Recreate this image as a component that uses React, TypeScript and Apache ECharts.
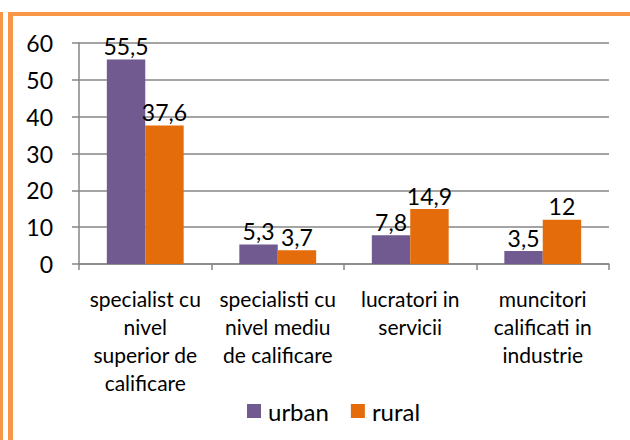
import React, { useEffect, useRef } from "react";
import * as echarts from "echarts";

const categories = [
  "specialist cu\nnivel\nsuperior de\ncalificare",
  "specialisti cu\nnivel mediu\nde calificare",
  "lucratori in\nservicii",
  "muncitori\ncalificati in\nindustrie",
];
const seriesNames = ["urban", "rural"];
const urban = [55.5, 5.3, 7.8, 3.5];
const rural = [37.6, 3.7, 14.9, 12];

const FONT = "Lato, 'Open Sans', sans-serif";

export default function App() {
  const ref = useRef<HTMLDivElement>(null);
  useEffect(() => {
    document.body.style.margin = "0";
    const chart = echarts.init(ref.current!, null, { renderer: "svg" });
    const fmt = (p: any) => String(p.value).replace(".", ",");
    const labelStyle = { show: true, position: "top", formatter: fmt, fontSize: 23, color: "#000", distance: 2, fontFamily: FONT };
    chart.setOption({
      animation: false,
      textStyle: { fontFamily: FONT },
      grid: { left: 79, right: 21, top: 43, bottom: 176, containLabel: false },
      legend: {
        data: seriesNames,
        top: 394,
        left: 242,
        itemWidth: 14,
        itemHeight: 14,
        itemGap: 22,
        icon: "rect",
        textStyle: { fontSize: 24, color: "#000", fontFamily: FONT, padding: [0, 0, 0, 2] },
      },
      xAxis: {
        type: "category",
        data: categories,
        axisLine: { lineStyle: { color: "#868686", width: 1.5 } },
        axisTick: { show: true, length: 6, lineStyle: { color: "#868686", width: 1.5 } },
        axisLabel: {
          interval: 0,
          fontSize: 21,
          lineHeight: 28,
          color: "#000",
          margin: 20,
          fontFamily: FONT,
        },
      },
      yAxis: {
        type: "value",
        min: 0,
        max: 60,
        interval: 10,
        axisLine: { show: true, lineStyle: { color: "#868686", width: 1.5 } },
        axisTick: { show: true, length: 7, lineStyle: { color: "#868686", width: 1.5 } },
        splitLine: { lineStyle: { color: "#868686", width: 1.5 } },
        axisLabel: { fontSize: 23, color: "#000", margin: 26, fontFamily: FONT },
      },
      series: [
        {
          name: seriesNames[0],
          type: "bar",
          data: urban,
          barGap: "0%",
          barCategoryGap: "42%",
          itemStyle: { color: "#715A8F" },
          label: labelStyle,
        },
        {
          name: seriesNames[1],
          type: "bar",
          data: rural,
          barGap: "0%",
          barCategoryGap: "42%",
          itemStyle: { color: "#E46C0A" },
          label: labelStyle,
        },
      ],
      graphic: [
        { type: "rect", shape: { x: 8, y: 12, width: 622, height: 4 }, style: { fill: "#F79646" } },
        { type: "rect", shape: { x: 8, y: 12, width: 5, height: 428 }, style: { fill: "#F79646" } },
        { type: "rect", shape: { x: 0, y: 12, width: 3, height: 428 }, style: { fill: "#F79646" } },
      ],
    });
    return () => chart.dispose();
  }, []);
  return <div ref={ref} style={{ width: 630, height: 440 }} />;
}
